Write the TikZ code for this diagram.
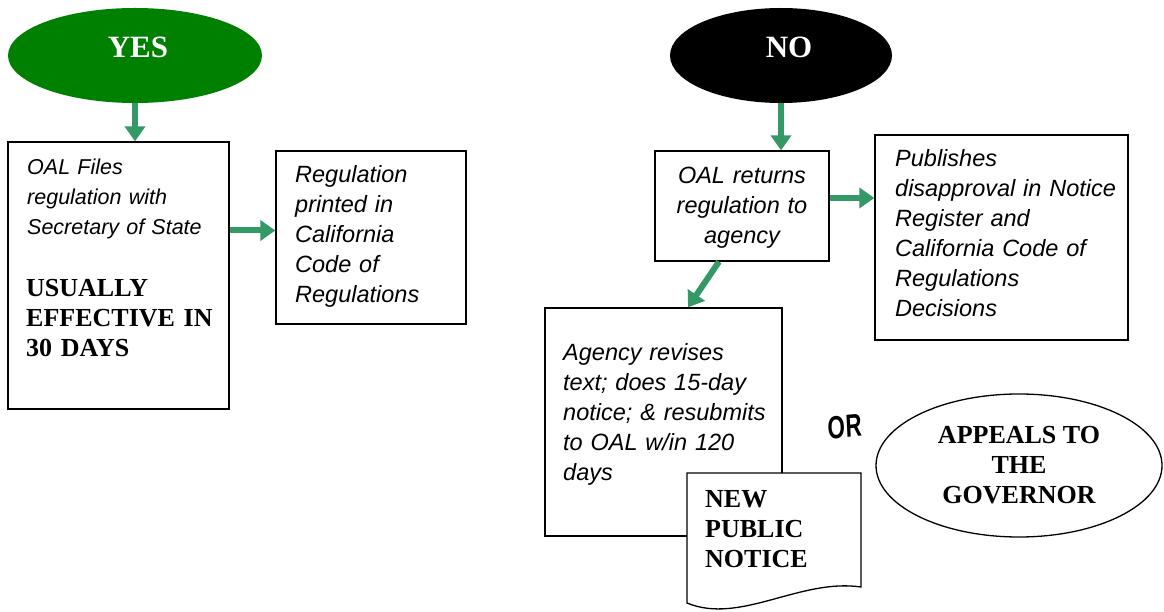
\documentclass[tikz,border=0pt]{standalone}
\usepackage{fontspec}
\setmainfont{Liberation Serif}
\newfontfamily\arialf{Liberation Sans}
\usetikzlibrary{shapes.geometric,arrows.meta,calc}
\definecolor{arrgreen}{HTML}{339966}
\definecolor{yesgreen}{HTML}{008000}
\begin{document}
\begin{tikzpicture}[x=1pt,y=-1pt,
 box/.style={draw=black, line width=1.3pt, fill=white, inner sep=0pt},
 itxt/.style={font=\arialf\itshape\fontsize{23.5}{30}\selectfont, inner sep=0pt, align=left, anchor=base west},
 btxt/.style={font=\bfseries\fontsize{26}{30}\selectfont, inner sep=0pt},
 oval/.style={ellipse, inner sep=0pt, font=\bfseries\fontsize{31}{31}\selectfont, text=white, text depth=14pt},
 flow/.style={draw=arrgreen, line width=6pt, -{Triangle[width=20pt,length=15pt]}},
]
\useasboundingbox (0,0) rectangle (1164,612);

% YES branch
\node[oval, fill=yesgreen, minimum width=254pt, minimum height=95pt, text depth=14pt, xshift=3pt] (yes) at (132,55.5) {};
\node[font=\bfseries\fontsize{31}{31}\selectfont, text=white, inner sep=0pt, anchor=base] (yestxt) at (138,58) {YES};
\node[box, minimum width=221pt, minimum height=267pt] (b1) at (118.5,275.5) {};
\node[itxt, font=\arialf\itshape\fontsize{21.5}{30}\selectfont, text width=210pt] (t1) at (27,175) {OAL Files\\regulation with\\Secretary of State};
\node[btxt, anchor=base west, align=left, text width=210pt] (t1b) at (26,296) {USUALLY\\EFFECTIVE IN\\30 DAYS};
\node[box, minimum width=190pt, minimum height=173pt] (b2) at (371,237.5) {};
\node[itxt, text width=170pt] (t2) at (295,183) {Regulation\\printed in\\California\\Code of\\Regulations};

% NO branch
\node[oval, fill=black, minimum width=222pt, minimum height=95pt] (no) at (781,55.5) {};
\node[font=\bfseries\fontsize{31}{31}\selectfont, text=white, inner sep=0pt, anchor=base] (notxt) at (789,58) {NO};
\node[box, minimum width=174pt, minimum height=110pt] (b3) at (742,206) {};
\node[itxt, align=center, anchor=base, text width=174pt] (t3) at (742,184) {OAL returns\\regulation to\\agency};
\node[box, minimum width=253pt, minimum height=205pt] (b4) at (1001.5,237.5) {};
\node[itxt, text width=232pt] (t4) at (895,167) {Publishes\\disapproval in Notice\\Register and\\California Code of\\Regulations\\Decisions};
\node[box, minimum width=237pt, minimum height=228pt] (b5) at (663.5,422) {};
\node[itxt, text width=230pt] (t5) at (563,360) {Agency revises\\text; does 15-day\\notice; \& resubmits\\to OAL w/in 120\\days};

% document shape
\draw[line width=1.3pt, fill=white] (687,473) -- (861,473) -- (861,587) .. controls (800,578) and (740,625) .. (687,603) -- cycle;
\node[btxt, anchor=base west, align=left, text width=150pt] (doc) at (705,507) {NEW\\PUBLIC\\NOTICE};

\node[font=\arialf\bfseries\fontsize{32}{32}\selectfont, xscale=0.7, rotate=4, inner sep=0pt] (or) at (845,427) {OR};

\node[ellipse, draw=black, line width=1.3pt, minimum width=286pt, minimum height=143pt, inner sep=0pt, align=center, btxt] (app) at (1019,465.5) {APPEALS TO\\THE\\GOVERNOR};

% connectors
\draw[flow] (yes.south) -- (yes.south |- b1.north);
\draw[flow] ([yshift=7pt]b2.west -| b1.east) -- ([yshift=7pt]b2.west);
\draw[flow] (no.south) -- (no.south |- b3.north);
\draw[flow] ([yshift=8pt]b3.east) -- ([yshift=8pt]b3.east -| b4.west);
\draw[flow] ([xshift=-23pt]b3.south) -- ([xshift=24.5pt]b5.north);
\end{tikzpicture}
\end{document}
